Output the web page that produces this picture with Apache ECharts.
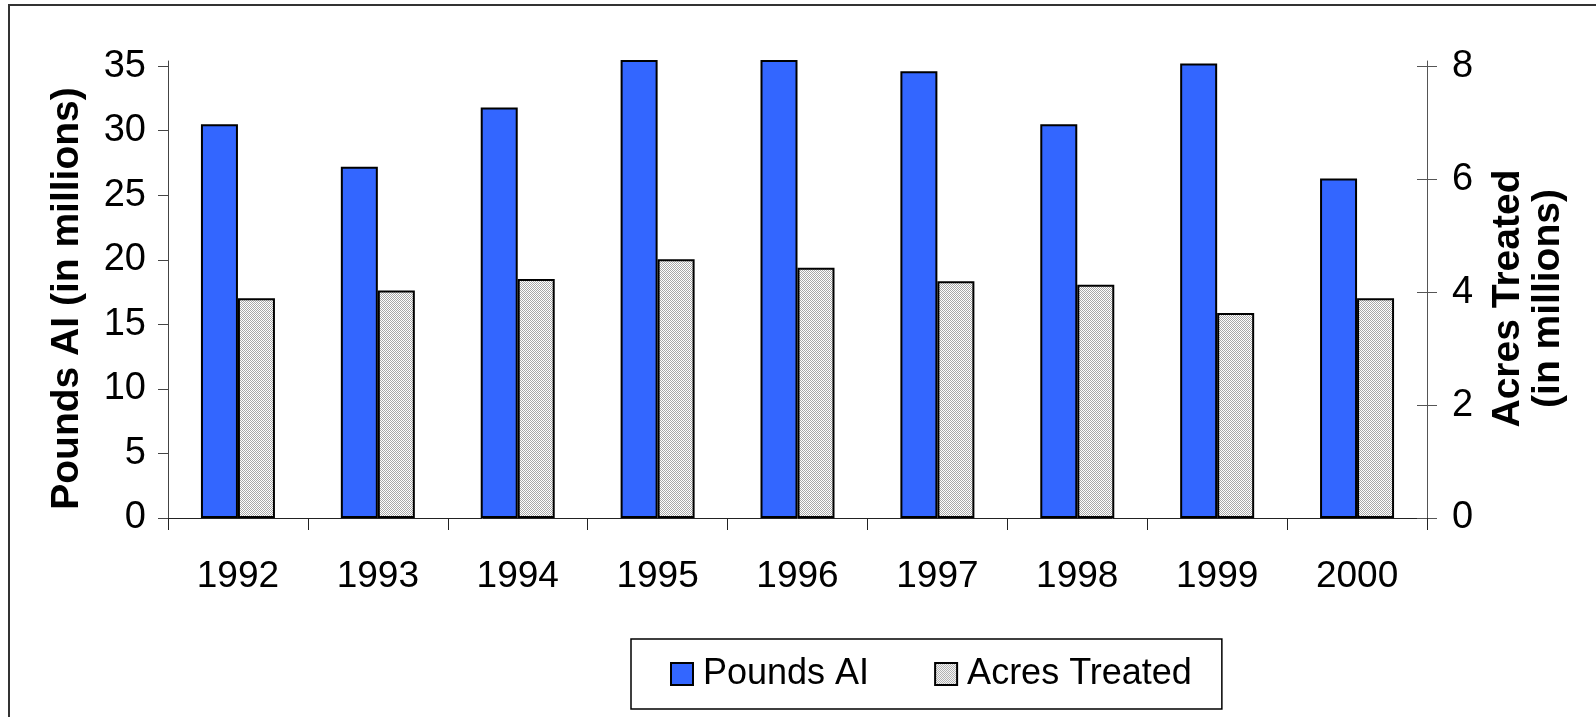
<!DOCTYPE html>
<html>
<head>
<meta charset="utf-8">
<script src="https://cdn.jsdelivr.net/npm/echarts@6/dist/echarts.min.js"></script>
<style>
  html, body { margin: 0; padding: 0; background: #fff; overflow: hidden; }
  #main { width: 1596px; height: 717px; }
  .frame { position: absolute; left: 8px; top: 4px; right: -20px; bottom: -20px;
           border-top: 2px solid #333; border-left: 2px solid #333; pointer-events: none; }
</style>
</head>
<body>
<div id="main"></div>
<div class="frame"></div>
<script>
// data
var years = ['1992', '1993', '1994', '1995', '1996', '1997', '1998', '1999', '2000'];
var poundsAI = [30.5, 27.2, 31.8, 38, 38, 34.6, 30.5, 35.2, 26.3];     // 1995/1996 run off the top
var acresTreated = [3.89, 4.03, 4.23, 4.58, 4.43, 4.19, 4.13, 3.63, 3.89];
var leftTicks = [0, 5, 10, 15, 20, 25, 30, 35];
var rightTicks = [0, 2, 4, 6, 8];

// plot area runs a little past the top tick (excel style), bars get cut there
var leftTop = 35.4;
var rightTop = 8 * leftTop / 35;

// dotted grey fill like the old excel pattern
var makeDots = function () {
    var c = document.createElement('canvas');
    c.width = 2; c.height = 2;
    var ctx = c.getContext('2d');
    ctx.fillStyle = '#ffffff';
    ctx.fillRect(0, 0, 2, 2);
    ctx.fillStyle = '#a8a8a8';
    ctx.fillRect(0, 0, 1, 1);
    ctx.fillRect(1, 1, 1, 1);
    return c;
};

var font = 'Liberation Sans, Arial, sans-serif';
var myChart = echarts.init(document.getElementById('main'));

var option = {
    animation: false,
    textStyle: { fontFamily: font, color: '#000' },
    grid: { left: 168, right: 169, top: 61, bottom: 199 },
    legend: {
        left: 631, top: 639,
        padding: [17, 30, 17, 39],
        borderColor: '#000', borderWidth: 1.5,
        icon: 'rect',
        itemWidth: 22, itemHeight: 22, itemGap: 65,
        selectedMode: false,
        textStyle: { fontSize: 36, fontFamily: font, color: '#000', padding: [0, 0, 0, 5] },
        data: ['Pounds AI', 'Acres Treated']
    },
    xAxis: {
        type: 'category',
        data: years,
        axisLine: { lineStyle: { color: '#222', width: 1 } },
        axisTick: { show: true, length: 12, alignWithLabel: false, lineStyle: { color: '#222' } },
        axisLabel: { fontSize: 37, color: '#000', margin: 40, fontFamily: font }
    },
    yAxis: [
        {
            type: 'value', position: 'left',
            min: 0, max: leftTop,
            name: 'Pounds AI (in millions)',
            nameLocation: 'middle', nameRotate: 90, nameGap: 81,
            nameTextStyle: { fontSize: 39, fontWeight: 'bold', color: '#000', fontFamily: font, padding: [0, 18, 0, 0] },
            axisLine: { show: true, lineStyle: { color: '#444' } },
            axisTick: { show: true, length: 10, customValues: leftTicks, lineStyle: { color: '#444' } },
            axisLabel: { fontSize: 38, color: '#000', margin: 22, fontFamily: font, customValues: leftTicks },
            splitLine: { show: false }
        },
        {
            type: 'value', position: 'right',
            min: 0, max: rightTop,
            name: 'Acres Treated\n(in millions)',
            nameLocation: 'middle', nameRotate: 90, nameGap: 61,
            nameTextStyle: { fontSize: 39, fontWeight: 'bold', color: '#000', fontFamily: font, lineHeight: 40, align: 'center', padding: [0, 18, 0, 0] },
            axisLine: { show: true, lineStyle: { color: '#555' } },
            axisTick: { show: true, length: 10, customValues: rightTicks, lineStyle: { color: '#555' } },
            axisLabel: { fontSize: 38, color: '#000', margin: 25, fontFamily: font, customValues: rightTicks },
            splitLine: { show: false }
        },
        {
            // inner half of the crossing ticks on the right axis
            type: 'value', position: 'right',
            min: 0, max: rightTop,
            axisLine: { show: false },
            axisTick: { show: true, inside: true, length: 10, customValues: rightTicks, lineStyle: { color: '#555' } },
            axisLabel: { show: false },
            splitLine: { show: false }
        }
    ],
    series: [
        {
            name: 'Pounds AI',
            type: 'bar',
            yAxisIndex: 0,
            barWidth: 37,
            barGap: '0%',
            clip: true,
            itemStyle: { color: '#3366ff', borderColor: '#000', borderWidth: 2 },
            data: poundsAI
        },
        {
            name: 'Acres Treated',
            type: 'bar',
            yAxisIndex: 1,
            barWidth: 37,
            barGap: '0%',
            itemStyle: { color: { image: makeDots(), repeat: 'repeat' }, borderColor: '#000', borderWidth: 2 },
            data: acresTreated
        }
    ]
};

myChart.setOption(option);
</script>
</body>
</html>
